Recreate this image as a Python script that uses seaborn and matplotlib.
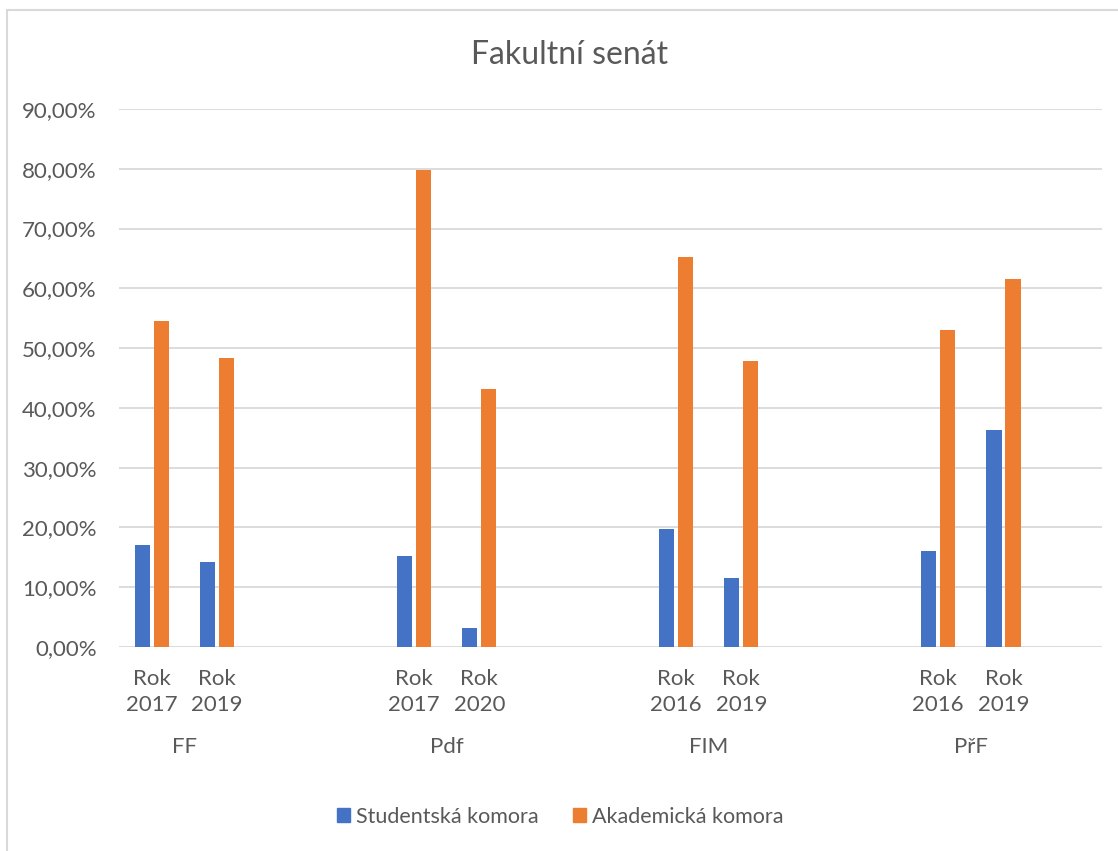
import pandas as pd
import seaborn as sns
import matplotlib.pyplot as plt
from matplotlib.patches import Rectangle
from matplotlib.ticker import FuncFormatter, MultipleLocator
import matplotlib.transforms as mtransforms

# data
faculties = ["FF", "Pdf", "FIM", "PřF"]
years = [["Rok 2017", "Rok 2019"], ["Rok 2017", "Rok 2020"],
         ["Rok 2016", "Rok 2019"], ["Rok 2016", "Rok 2019"]]
studentska = [17.1, 14.2, 15.3, 3.1, 19.8, 11.5, 16.1, 36.3]
akademicka = [54.6, 48.3, 79.8, 43.1, 65.2, 47.8, 53.1, 61.6]
series = ["Studentská komora", "Akademická komora"]
colors = ["#4472C4", "#ED7D31"]
empty_after = [2, 2, 2, 1]  # empty category slots after each faculty

sns.set_style("white")
plt.rcParams["font.family"] = ["Lato", "DejaVu Sans"]
text_color = "#595959"
grid_color = "#D9D9D9"

# build long table + slot order (blank slots keep the Excel spacing)
rows = []
order = []
i = 0
for fac, ys, n_empty in zip(faculties, years, empty_after):
    for y in ys:
        key = f"{fac}|{y}"
        order.append(key)
        rows.append({"slot": key, "Komora": series[0], "value": studentska[i]})
        rows.append({"slot": key, "Komora": series[1], "value": akademicka[i]})
        i += 1
    for g in range(n_empty):
        order.append(f"{fac}|empty{g}")
df = pd.DataFrame(rows)

fig = plt.figure(figsize=(11.18, 8.51), dpi=100)
ax = fig.add_axes([0.1064, 0.2397, 0.8790, 0.6322])

sns.barplot(data=df, x="slot", y="value", hue="Komora", order=order,
            hue_order=series, palette=colors, width=0.58, gap=0.2,
            linewidth=0, saturation=1, legend=False, ax=ax)

ax.set_xlim(-0.5, len(order) - 0.5)
ax.set_ylim(0, 90)
ax.yaxis.set_major_locator(MultipleLocator(10))
ax.yaxis.set_major_formatter(FuncFormatter(lambda v, p: f"{v:.2f}%".replace(".", ",")))
ax.yaxis.grid(True, color=grid_color, lw=1.3)
ax.set_axisbelow(True)
for s in ax.spines.values():
    s.set_visible(False)
ax.set_xlabel("")
ax.set_ylabel("")

xlabels = ["" if "empty" in k else k.split("|")[1].replace(" ", "\n") for k in order]
ax.set_xticks(range(len(order)))
ax.set_xticklabels(xlabels, linespacing=1.38)
ax.tick_params(axis="x", length=0, pad=16, labelsize=16, labelcolor=text_color)
ax.tick_params(axis="y", length=0, pad=16, labelsize=16, labelcolor=text_color)

# faculty labels under each pair of years
trans = mtransforms.blended_transform_factory(ax.transData, ax.transAxes)
for fac in faculties:
    pos = [j for j, k in enumerate(order) if k.startswith(fac + "|") and "empty" not in k]
    ax.text(sum(pos) / len(pos), -0.186, fac, transform=trans, ha="center",
            va="center", fontsize=16, color=text_color)

fig.text(570 / 1118, 1 - 55 / 851, "Fakultní senát", ha="center", va="center",
         fontsize=23, color=text_color)

handles = [Rectangle((0, 0), 1, 1, color=c) for c in colors]
fig.legend(handles, series, loc="center", bbox_to_anchor=(560 / 1118, 1 - 817 / 851),
           ncol=2, frameon=False, fontsize=15.5, handlelength=0.62, handleheight=0.62,
           handletextpad=0.25, columnspacing=1.6, labelcolor=text_color)

# chart-area border (cropped at right and bottom in the original)
fig.patches.append(Rectangle((7 / 1118, -0.1), 1.2, 1.1 - 10 / 851, transform=fig.transFigure,
                             fill=False, edgecolor=grid_color, lw=1.5))

fig.savefig("out.png", dpi=100)
